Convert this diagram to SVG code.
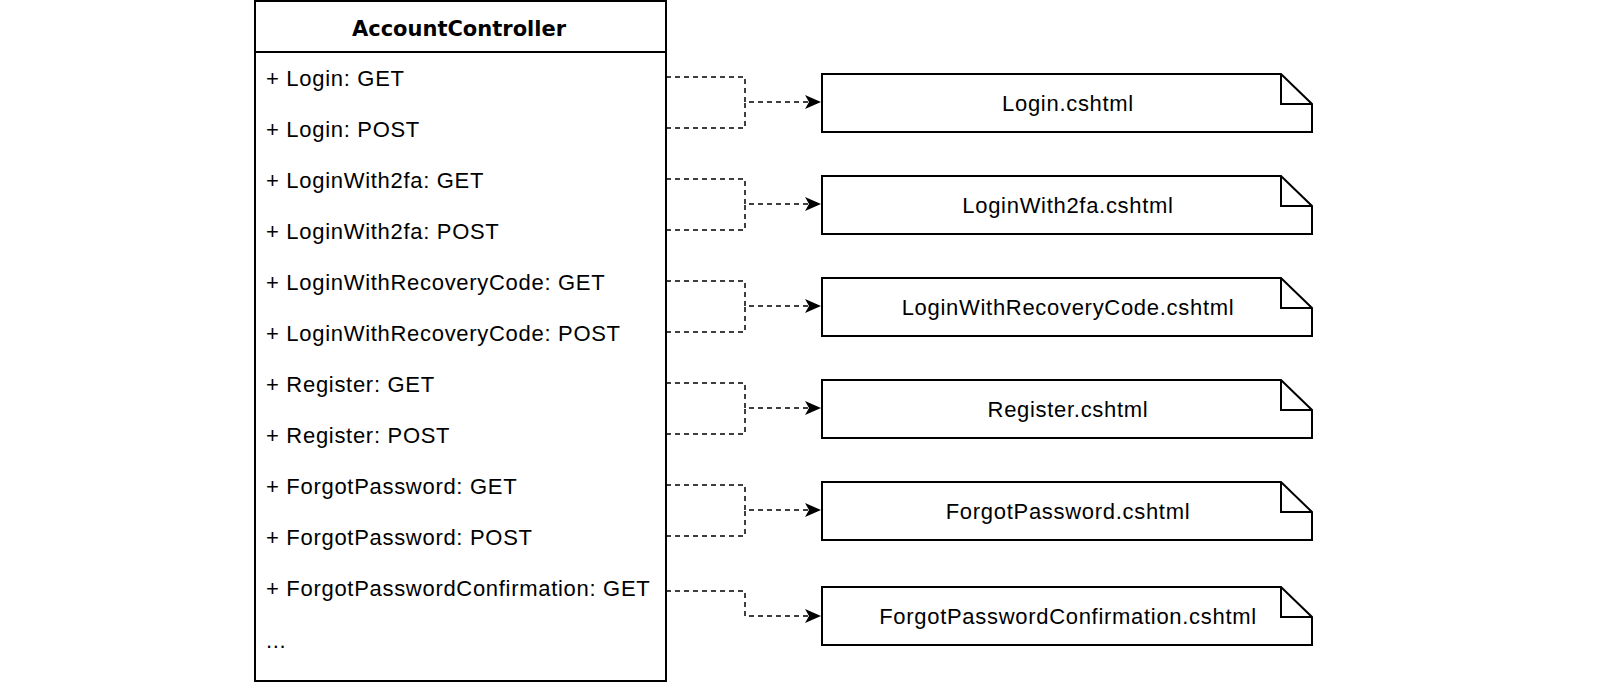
<svg xmlns="http://www.w3.org/2000/svg" width="1600" height="696" viewBox="0 0 1600 696">
<style>
.box{fill:#fff;stroke:#000;stroke-width:2}
.t{font-family:"Liberation Sans",Arial,sans-serif;font-size:22px;letter-spacing:0.7px;fill:#000}
.c{fill:none;stroke:#000;stroke-width:1.5;stroke-dasharray:5 4}
.m{text-anchor:middle}
</style>
<defs>
<marker id="a" viewBox="0 0 16 14" refX="15" refY="7" markerWidth="16" markerHeight="14" markerUnits="userSpaceOnUse" orient="auto">
<path d="M0,0 L16,7 L0,14 L4,7 Z" fill="#000"/>
</marker>
</defs>
<g id="AccountController">
<rect class="box" x="255" y="1" width="411" height="680"/>
<line x1="255" y1="52" x2="666" y2="52" stroke="#000" stroke-width="2"/>
<text class="t m" x="459" y="36" font-weight="bold" style="font-family:'DejaVu Sans',sans-serif;font-size:21px;letter-spacing:0">AccountController</text>
<text class="t" x="266" y="86">+ Login: GET</text>
<text class="t" x="266" y="137">+ Login: POST</text>
<text class="t" x="266" y="188">+ LoginWith2fa: GET</text>
<text class="t" x="266" y="239">+ LoginWith2fa: POST</text>
<text class="t" x="266" y="290">+ LoginWithRecoveryCode: GET</text>
<text class="t" x="266" y="341">+ LoginWithRecoveryCode: POST</text>
<text class="t" x="266" y="392">+ Register: GET</text>
<text class="t" x="266" y="443">+ Register: POST</text>
<text class="t" x="266" y="494">+ ForgotPassword: GET</text>
<text class="t" x="266" y="545">+ ForgotPassword: POST</text>
<text class="t" x="266" y="596">+ ForgotPasswordConfirmation: GET</text>
<text class="t" x="266" y="648">...</text>
</g>
<g id="n1"><path class="box" d="M822,74 H1281 L1312,104 V132 H822 Z M1281,74 V104 H1312"/><text class="t m" x="1068" y="111">Login.cshtml</text></g>
<g id="n2"><path class="box" d="M822,176 H1281 L1312,206 V234 H822 Z M1281,176 V206 H1312"/><text class="t m" x="1068" y="213">LoginWith2fa.cshtml</text></g>
<g id="n3"><path class="box" d="M822,278 H1281 L1312,308 V336 H822 Z M1281,278 V308 H1312"/><text class="t m" x="1068" y="315">LoginWithRecoveryCode.cshtml</text></g>
<g id="n4"><path class="box" d="M822,380 H1281 L1312,410 V438 H822 Z M1281,380 V410 H1312"/><text class="t m" x="1068" y="417">Register.cshtml</text></g>
<g id="n5"><path class="box" d="M822,482 H1281 L1312,512 V540 H822 Z M1281,482 V512 H1312"/><text class="t m" x="1068" y="519">ForgotPassword.cshtml</text></g>
<g id="n6"><path class="box" d="M822,587 H1281 L1312,617 V645 H822 Z M1281,587 V617 H1312"/><text class="t m" x="1068" y="624">ForgotPasswordConfirmation.cshtml</text></g>
<g id="connectors">
<path class="c" d="M666,77 H745 V102 H820" marker-end="url(#a)"/>
<path class="c" d="M666,128 H745 V102"/>
<path class="c" d="M666,179 H745 V204 H820" marker-end="url(#a)"/>
<path class="c" d="M666,230 H745 V204"/>
<path class="c" d="M666,281 H745 V306 H820" marker-end="url(#a)"/>
<path class="c" d="M666,332 H745 V306"/>
<path class="c" d="M666,383 H745 V408 H820" marker-end="url(#a)"/>
<path class="c" d="M666,434 H745 V408"/>
<path class="c" d="M666,485 H745 V510 H820" marker-end="url(#a)"/>
<path class="c" d="M666,536 H745 V510"/>
<path class="c" d="M666,591 H745 V616 H820" marker-end="url(#a)"/>
</g>
</svg>
